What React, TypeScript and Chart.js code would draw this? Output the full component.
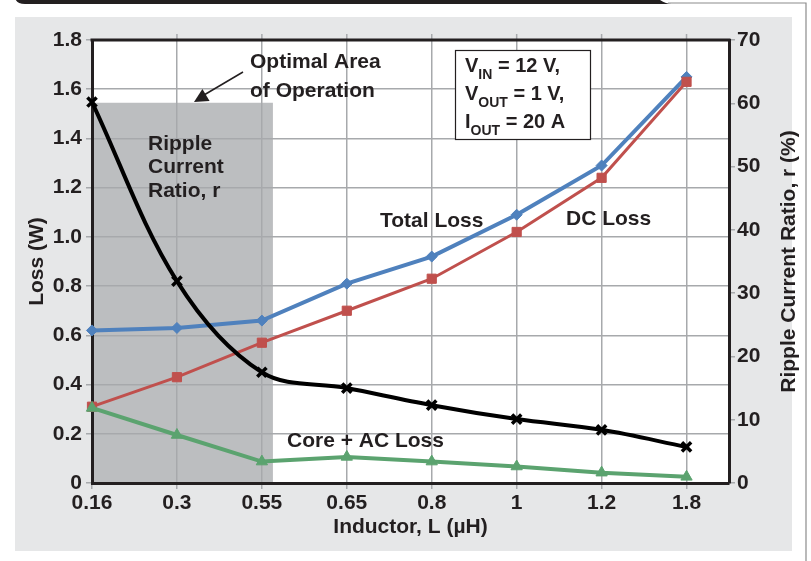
import { useEffect, useRef } from 'react';
import { Chart, registerables } from 'chart.js';

Chart.register(...registerables);

const inductorLabels = ['0.16', '0.3', '0.55', '0.65', '0.8', '1', '1.2', '1.8'];
const totalLoss = [0.62, 0.63, 0.66, 0.81, 0.92, 1.09, 1.29, 1.65];
const dcLoss = [0.31, 0.43, 0.57, 0.7, 0.83, 1.02, 1.24, 1.63];
const coreAcLoss = [0.305, 0.195, 0.087, 0.106, 0.087, 0.067, 0.042, 0.025];
const rippleRatio = [60.2, 31.9, 17.5, 15.0, 12.3, 10.1, 8.4, 5.7];
const lossTickLabels = ['0', '0.2', '0.4', '0.6', '0.8', '1.0', '1.2', '1.4', '1.6', '1.8'];
const rippleTickLabels = ['0', '10', '20', '30', '40', '50', '60', '70'];

const FONT = "'Liberation Sans', Arial, Helvetica, sans-serif";
const INK = '#231f20';
const GRID = '#a7a9ac';

const toXY = (vals: number[]) => vals.map((y, i) => ({ x: i, y }));

const decor = {
  id: 'decor',
  beforeDraw(chart: any) {
    const { ctx, chartArea: a, scales, width, height } = chart;
    ctx.save();
    ctx.fillStyle = '#ffffff';
    ctx.fillRect(0, 0, width, height);
    // top header bar
    ctx.fillStyle = INK;
    ctx.beginPath();
    ctx.moveTo(15, -10);
    ctx.lineTo(660, -10);
    ctx.lineTo(660, 0);
    ctx.quadraticCurveTo(666, 4, 672, 4);
    ctx.lineTo(25, 4);
    ctx.quadraticCurveTo(15, 4, 15, -4);
    ctx.closePath();
    ctx.fill();
    ctx.strokeStyle = '#8c8c8c';
    ctx.lineWidth = 1.2;
    ctx.beginPath();
    ctx.moveTo(668, 3);
    ctx.lineTo(806, 3);
    ctx.lineTo(806, height);
    ctx.stroke();
    // panel
    ctx.fillStyle = '#e6e7e8';
    ctx.fillRect(15, 17, 777, 534);
    // plot area
    ctx.fillStyle = '#ffffff';
    ctx.fillRect(a.left, a.top, a.right - a.left, a.bottom - a.top);
    // optimal area shade
    const x0 = scales.x.getPixelForValue(0);
    const x1 = scales.x.getPixelForValue(2.13);
    const yt = scales.y.getPixelForValue(1.545);
    ctx.fillStyle = '#bcbec0';
    ctx.fillRect(x0, yt, x1 - x0, a.bottom - yt);
    ctx.restore();
  },
  afterDraw(chart: any) {
    const { ctx, chartArea: a, scales } = chart;
    ctx.save();
    // small grid stubs above top border
    ctx.strokeStyle = GRID;
    ctx.lineWidth = 1.5;
    for (let i = 1; i < inductorLabels.length; i++) {
      const px = scales.x.getPixelForValue(i);
      ctx.beginPath();
      ctx.moveTo(px, a.top - 6);
      ctx.lineTo(px, a.top);
      ctx.stroke();
    }
    // top border
    ctx.strokeStyle = INK;
    ctx.lineWidth = 3;
    ctx.beginPath();
    ctx.moveTo(a.left - 1.5, a.top);
    ctx.lineTo(a.right + 1.5, a.top);
    ctx.stroke();

    ctx.fillStyle = INK;
    ctx.textBaseline = 'middle';
    ctx.textAlign = 'left';
    ctx.font = `bold 21px ${FONT}`;
    ctx.fillText('Optimal Area', 250, 62);
    ctx.fillText('of Operation', 250, 91);
    ctx.fillText('Ripple', 148, 144);
    ctx.fillText('Current', 148, 167);
    ctx.fillText('Ratio, r', 148, 191);
    ctx.fillText('Total Loss', 380, 221);
    ctx.fillText('DC Loss', 566, 219);
    ctx.fillText('Core + AC Loss', 287, 441);

    // arrow
    ctx.strokeStyle = INK;
    ctx.lineWidth = 1.5;
    ctx.beginPath();
    ctx.moveTo(243, 72);
    ctx.lineTo(204, 95);
    ctx.stroke();
    ctx.beginPath();
    ctx.moveTo(194, 102);
    ctx.lineTo(209.6, 101);
    ctx.lineTo(202.4, 89);
    ctx.closePath();
    ctx.fill();

    // conditions box
    ctx.fillStyle = '#ffffff';
    ctx.fillRect(455, 50, 135, 89);
    ctx.strokeStyle = INK;
    ctx.lineWidth = 1.2;
    ctx.strokeRect(455.5, 50.5, 135, 89);
    ctx.fillStyle = INK;
    ctx.textBaseline = 'alphabetic';
    const lines = [
      { main: 'V', sub: 'IN', rest: ' = 12 V,', y: 72 },
      { main: 'V', sub: 'OUT', rest: ' = 1 V,', y: 100 },
      { main: 'I', sub: 'OUT', rest: ' = 20 A', y: 128 },
    ];
    for (const l of lines) {
      let x = 465;
      ctx.font = `bold 20px ${FONT}`;
      ctx.fillText(l.main, x, l.y);
      x += ctx.measureText(l.main).width;
      ctx.font = `bold 14px ${FONT}`;
      ctx.fillText(l.sub, x, l.y + 7);
      x += ctx.measureText(l.sub).width;
      ctx.font = `bold 20px ${FONT}`;
      ctx.fillText(l.rest, x, l.y);
    }

    // right axis title (reads bottom to top)
    ctx.save();
    ctx.translate(789, (a.top + a.bottom) / 2);
    ctx.rotate(-Math.PI / 2);
    ctx.textAlign = 'center';
    ctx.textBaseline = 'middle';
    ctx.font = `bold 21px ${FONT}`;
    ctx.fillText('Ripple Current Ratio, r (%)', 0, 0);
    ctx.restore();
    ctx.restore();
  },
};

export default function App() {
  const ref = useRef<HTMLCanvasElement | null>(null);
  useEffect(() => {
    document.body.style.margin = '0';
    const canvas = ref.current;
    if (!canvas) return;
    const tickFont = { family: FONT, size: 21, weight: 'bold' as const };
    const titleFont = { family: FONT, size: 21, weight: 'bold' as const };
    const chart = new Chart(canvas, {
      type: 'line',
      data: {
        datasets: [
          {
            label: 'Ripple Current Ratio, r',
            data: toXY(rippleRatio),
            yAxisID: 'y1',
            borderColor: '#000000',
            backgroundColor: '#000000',
            borderWidth: 4,
            tension: 0.35,
            pointStyle: 'crossRot',
            pointRadius: 6.5,
            pointBorderWidth: 3.5,
            clip: false as any,
          },
          {
            label: 'Core + AC Loss',
            data: toXY(coreAcLoss),
            yAxisID: 'y',
            borderColor: '#5ba36f',
            backgroundColor: '#5ba36f',
            borderWidth: 4,
            pointStyle: 'triangle',
            pointRadius: 6.5,
            pointBorderWidth: 1,
            clip: false as any,
          },
          {
            label: 'DC Loss',
            data: toXY(dcLoss),
            yAxisID: 'y',
            borderColor: '#c0504d',
            backgroundColor: '#c0504d',
            borderWidth: 3,
            pointStyle: 'rect',
            pointRadius: 6.5,
            pointBorderWidth: 1,
            clip: false as any,
          },
          {
            label: 'Total Loss',
            data: toXY(totalLoss),
            yAxisID: 'y',
            borderColor: '#4f81bd',
            backgroundColor: '#4f81bd',
            borderWidth: 4,
            pointStyle: 'rectRot',
            pointRadius: 5.5,
            pointBorderWidth: 1,
            clip: false as any,
          },
        ],
      },
      options: {
        responsive: false,
        animation: false,
        devicePixelRatio: 1,
        layout: { padding: { left: 15, right: 10, top: 40, bottom: 10 } },
        plugins: { legend: { display: false }, tooltip: { enabled: false } },
        scales: {
          x: {
            type: 'linear',
            min: 0,
            max: 7.5,
            afterBuildTicks: (s: any) => {
              s.ticks = inductorLabels.map((_, i) => ({ value: i }));
            },
            afterFit: (s: any) => {
              s.height = 68;
            },
            ticks: {
              callback: (_v: any, i: number) => inductorLabels[i],
              font: tickFont,
              color: INK,
              padding: 2,
              maxRotation: 0,
              autoSkip: false,
            },
            grid: { color: GRID, lineWidth: 1.5, tickLength: 6 },
            border: { color: INK, width: 3 },
            title: {
              display: true,
              text: 'Inductor, L (µH)',
              font: titleFont,
              color: INK,
              padding: { top: 0, bottom: 11 },
            },
          },
          y: {
            type: 'linear',
            position: 'left',
            min: 0,
            max: 1.8,
            afterBuildTicks: (s: any) => {
              s.ticks = lossTickLabels.map((t) => ({ value: Number(t) }));
            },
            afterFit: (s: any) => {
              s.width = 77;
            },
            ticks: {
              callback: (_v: any, i: number) => lossTickLabels[i],
              font: tickFont,
              color: INK,
              padding: 4,
            },
            grid: { color: GRID, lineWidth: 1.5, tickLength: 6 },
            border: { color: INK, width: 3 },
            title: {
              display: true,
              text: 'Loss (W)',
              font: titleFont,
              color: INK,
              padding: { top: 10, bottom: 0 },
            },
          },
          y1: {
            type: 'linear',
            position: 'right',
            min: 0,
            max: 70,
            afterBuildTicks: (s: any) => {
              s.ticks = rippleTickLabels.map((t) => ({ value: Number(t) }));
            },
            afterFit: (s: any) => {
              s.width = 72;
            },
            ticks: {
              callback: (_v: any, i: number) => rippleTickLabels[i],
              font: tickFont,
              color: INK,
              padding: 2,
            },
            grid: { drawOnChartArea: false, color: GRID, lineWidth: 1.5, tickLength: 6 },
            border: { color: INK, width: 3 },
          },
        },
      } as any,
      plugins: [decor],
    });
    return () => chart.destroy();
  }, []);
  return (
    <div style={{ position: 'absolute', left: 0, top: 0, width: 811, height: 561 }}>
      <canvas ref={ref} width={811} height={561} style={{ width: 811, height: 561, display: 'block' }} />
    </div>
  );
}
